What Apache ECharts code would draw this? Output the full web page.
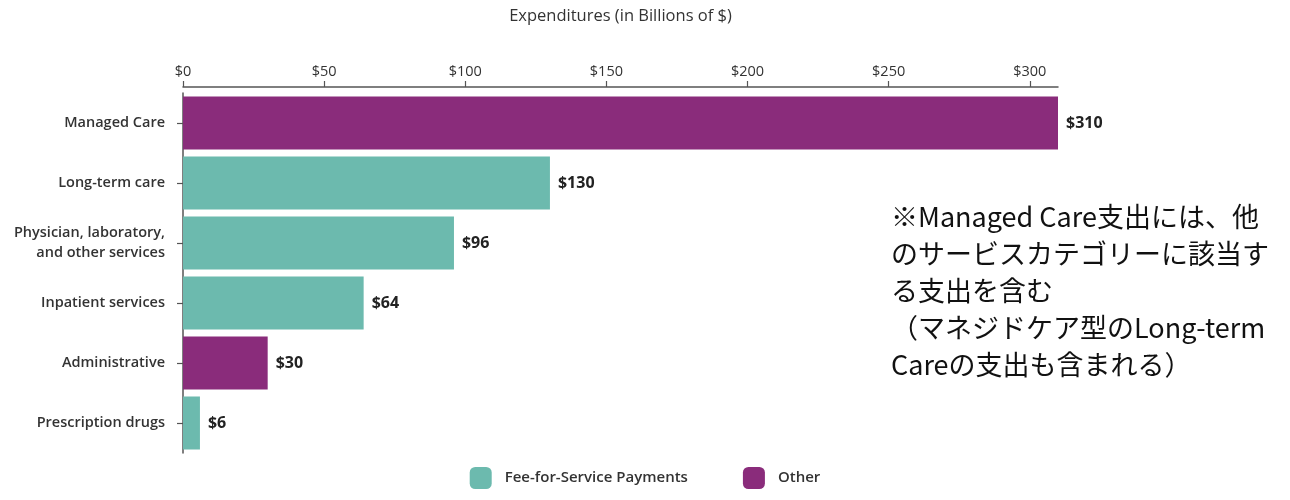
<!DOCTYPE html>
<html>
<head>
<meta charset="utf-8">
<script src="https://cdn.jsdelivr.net/npm/echarts@6/dist/echarts.min.js"></script>
<style>
  html, body { margin: 0; padding: 0; background: #ffffff; }
  #chart { width: 1290px; height: 500px; }
</style>
</head>
<body>
<div id="chart"></div>
<script>
// Medicaid expenditures by service category, billions of dollars
const categories = [
  'Managed Care',
  'Long-term care',
  'Physician, laboratory,\nand other services',
  'Inpatient services',
  'Administrative',
  'Prescription drugs'
];
const feeForService = ['-', 130, 96, 64, '-', 6];
const other = [310, '-', '-', '-', 30, '-'];
const tickLabels = ['$0', '$50', '$100', '$150', '$200', '$250', '$300'];
const noteLines = [
  '※Managed Care支出には、他',
  'のサービスカテゴリーに該当す',
  'る支出を含む',
  '（マネジドケア型のLong-term',
  'Careの支出も含まれる）'
];

const TEAL = '#6cbaae';
const PURPLE = '#8a2c7b';
const TEXT = '#333333';
const FONT = '"Open Sans", "Noto Sans", sans-serif';

const chart = echarts.init(document.getElementById('chart'), null, { renderer: 'canvas' });

const valueLabel = {
  show: true,
  position: 'right',
  distance: 8,
  formatter: p => '$' + p.value,
  color: '#222222',
  fontFamily: FONT,
  fontWeight: 700,
  fontSize: 16
};

chart.setOption({
  animation: false,
  backgroundColor: '#ffffff',
  textStyle: { fontFamily: FONT },
  title: {
    text: noteLines.join('\n'),
    left: 886,
    top: 193,
    textStyle: {
      fontFamily: '"Noto Sans CJK JP", sans-serif',
      fontWeight: 400,
      fontSize: 27,
      lineHeight: 37,
      color: '#111111'
    }
  },
  legend: {
    bottom: 6,
    left: 'center',
    itemWidth: 22,
    itemHeight: 22,
    itemGap: 55,
    icon: 'roundRect',
    textStyle: { color: TEXT, fontSize: 15, fontWeight: 600, fontFamily: FONT, padding: [0, 0, 0, 8] },
    data: ['Fee-for-Service Payments', 'Other']
  },
  grid: { left: 183, right: 232, top: 93, height: 360, containLabel: false },
  xAxis: {
    type: 'value',
    position: 'top',
    offset: 6,
    min: 0,
    max: 310,
    interval: 50,
    name: 'Expenditures (in Billions of $)',
    nameLocation: 'middle',
    nameGap: 62,
    nameTextStyle: { color: TEXT, fontSize: 16.5, fontFamily: FONT },
    axisLine: { show: true, lineStyle: { color: '#555555', width: 1.5 } },
    axisTick: { show: true, length: 6, lineStyle: { color: '#555555', width: 1.2 } },
    axisLabel: {
      show: true,
      margin: 8,
      showMaxLabel: false,
      color: TEXT,
      fontSize: 14.5,
      fontFamily: FONT,
      formatter: v => {
        const i = Math.round(v / 50);
        return (v % 50 === 0 && i < tickLabels.length) ? tickLabels[i] : '';
      }
    },
    splitLine: { show: false }
  },
  yAxis: {
    type: 'category',
    inverse: true,
    data: categories,
    axisLine: { show: true, lineStyle: { color: '#555555', width: 1.5 } },
    axisTick: { show: true, alignWithLabel: true, length: 6, lineStyle: { color: '#555555', width: 1.2 } },
    axisLabel: {
      margin: 18,
      color: TEXT,
      fontSize: 14.5,
      fontWeight: 600,
      fontFamily: FONT,
      lineHeight: 20,
      align: 'right'
    }
  },
  series: [
    {
      name: 'Fee-for-Service Payments',
      type: 'bar',
      stack: 'total',
      data: feeForService,
      barCategoryGap: '12%',
      itemStyle: { color: TEAL },
      label: valueLabel
    },
    {
      name: 'Other',
      type: 'bar',
      stack: 'total',
      data: other,
      barCategoryGap: '12%',
      itemStyle: { color: PURPLE },
      label: valueLabel
    }
  ]
});
</script>
</body>
</html>
